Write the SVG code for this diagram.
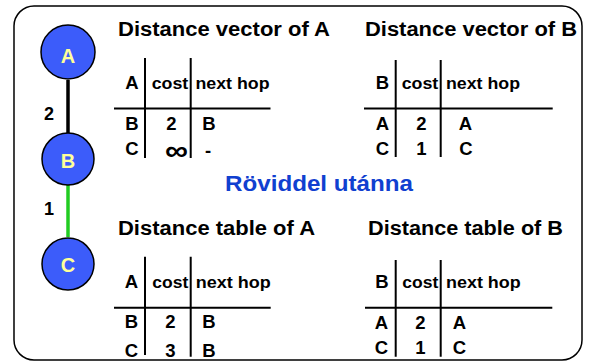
<svg xmlns="http://www.w3.org/2000/svg" width="589" height="362" viewBox="0 0 589 362">
<style>
text{font-family:"Liberation Sans",Arial,sans-serif;font-weight:bold;fill:#000}
.node{fill:#3c5cfa;stroke:#000;stroke-width:1.5}
.nl{font-size:20px;fill:#ffff99;text-anchor:middle}
.title{font-size:20px}
.hdr{font-size:16px}
.big{font-size:18.5px;text-anchor:middle}
.grid{stroke:#000;stroke-width:2;fill:none}
.el{font-size:18px}
</style>
<rect x="14" y="6" width="568" height="354" rx="20" ry="20" fill="#fff" stroke="#000" stroke-width="1.5"/>
<g id="connectors">
<line x1="68" y1="80" x2="68" y2="133" stroke="#000" stroke-width="3.5"/>
<line x1="68" y1="185" x2="68" y2="237" stroke="#22cc22" stroke-width="3.5"/>
<text class="el" x="44" y="120">2</text>
<text class="el" x="44" y="215">1</text>
</g>
<g id="nodeA"><circle class="node" cx="68" cy="52" r="27"/><text class="nl" x="68" y="63">A</text></g>
<g id="nodeB"><circle class="node" cx="68" cy="159" r="26"/><text class="nl" x="68" y="168">B</text></g>
<g id="nodeC"><circle class="node" cx="68" cy="264" r="26"/><text class="nl" x="68" y="272">C</text></g>

<text x="225" y="191" font-size="22" style="fill:#1040d0" textLength="188" lengthAdjust="spacingAndGlyphs">Röviddel utánna</text>

<g id="vectorA">
<text class="title" x="118" y="36" textLength="212" lengthAdjust="spacingAndGlyphs">Distance vector of A</text>
<path class="grid" d="M145 58V158M190.7 58V158M114 108.5H270.5"/>
<text class="big" x="132" y="89.3">A</text>
<text class="hdr" x="151.7" y="89.3" textLength="36.6" lengthAdjust="spacingAndGlyphs">cost</text>
<text class="hdr" x="195.5" y="89.3" textLength="74" lengthAdjust="spacingAndGlyphs">next hop</text>
<text class="big" x="132" y="130">B</text>
<text class="big" x="171.5" y="130">2</text>
<text class="big" x="209" y="130">B</text>
<text class="big" x="132" y="155">C</text>
<text class="big" x="176.5" y="160" style="font-size:28px" textLength="23" lengthAdjust="spacingAndGlyphs">∞</text>
<text class="big" x="208" y="157">-</text>
</g>

<g id="vectorB">
<text class="title" x="365" y="36" textLength="212" lengthAdjust="spacingAndGlyphs">Distance vector of B</text>
<path class="grid" d="M395.7 60V157M440.7 60V157M364 108.5H552.7"/>
<text class="big" x="382.5" y="89.3">B</text>
<text class="hdr" x="401.7" y="89.3" textLength="36.6" lengthAdjust="spacingAndGlyphs">cost</text>
<text class="hdr" x="446" y="89.3" textLength="74" lengthAdjust="spacingAndGlyphs">next hop</text>
<text class="big" x="382.5" y="130">A</text>
<text class="big" x="421.5" y="130">2</text>
<text class="big" x="465.5" y="130">A</text>
<text class="big" x="382.5" y="155">C</text>
<text class="big" x="421.5" y="155">1</text>
<text class="big" x="466" y="155">C</text>
</g>

<g id="tableA">
<text class="title" x="118" y="235" textLength="197" lengthAdjust="spacingAndGlyphs">Distance table of A</text>
<path class="grid" d="M145 256.7V355M190.7 256.7V356.7M114 307.7H270.7"/>
<text class="big" x="131.5" y="288.3">A</text>
<text class="hdr" x="152.3" y="288.3" textLength="36" lengthAdjust="spacingAndGlyphs">cost</text>
<text class="hdr" x="195.7" y="288.3" textLength="75" lengthAdjust="spacingAndGlyphs">next hop</text>
<text class="big" x="131.5" y="328.3">B</text>
<text class="big" x="170.5" y="328.3">2</text>
<text class="big" x="209" y="328.3">B</text>
<text class="big" x="131.5" y="357">C</text>
<text class="big" x="170.5" y="357">3</text>
<text class="big" x="209" y="357">B</text>
</g>

<g id="tableB">
<text class="title" x="368" y="235" textLength="195" lengthAdjust="spacingAndGlyphs">Distance table of B</text>
<path class="grid" d="M395.7 260V356.7M440.7 260V356.7M365 307.7H552.3"/>
<text class="big" x="382" y="288.3">B</text>
<text class="hdr" x="402.3" y="288.3" textLength="36" lengthAdjust="spacingAndGlyphs">cost</text>
<text class="hdr" x="446" y="288.3" textLength="74.7" lengthAdjust="spacingAndGlyphs">next hop</text>
<text class="big" x="381.5" y="329.3">A</text>
<text class="big" x="420.5" y="329.3">2</text>
<text class="big" x="459.5" y="329.3">A</text>
<text class="big" x="381.5" y="354">C</text>
<text class="big" x="420.5" y="354">1</text>
<text class="big" x="459.5" y="354">C</text>
</g>
</svg>
